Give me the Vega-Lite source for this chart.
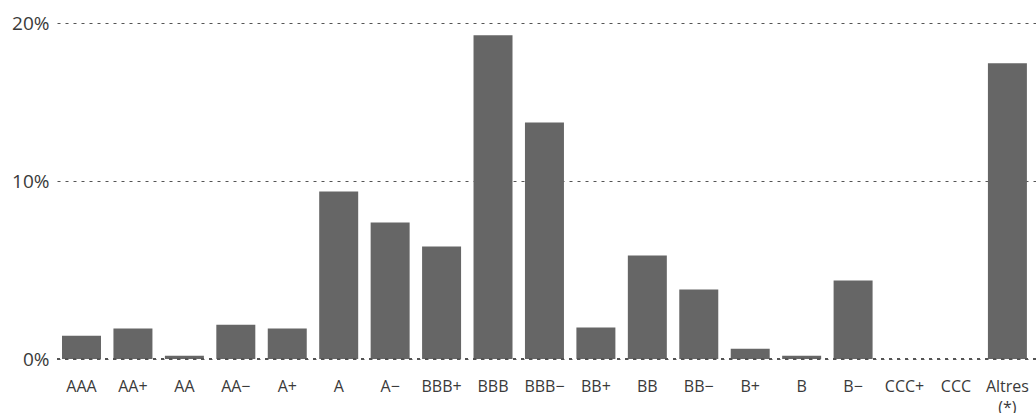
{
  "$schema": "https://vega.github.io/schema/vega-lite/v6.json",
  "width": 979,
  "height": 336,
  "autosize": {"type": "none"},
  "padding": {"left": 57, "top": 23, "right": 0, "bottom": 54},
  "background": "white",
  "config": {"view": {"stroke": null}, "font": "Open Sans"},
  "data": {
    "values": [
      {"rating": "AAA", "share": 0.0139},
      {"rating": "AA+", "share": 0.0181},
      {"rating": "AA", "share": 0.0020},
      {"rating": "AA−", "share": 0.0204},
      {"rating": "A+", "share": 0.0181},
      {"rating": "A", "share": 0.0997},
      {"rating": "A−", "share": 0.0812},
      {"rating": "BBB+", "share": 0.0669},
      {"rating": "BBB", "share": 0.1927},
      {"rating": "BBB−", "share": 0.1408},
      {"rating": "BB+", "share": 0.0187},
      {"rating": "BB", "share": 0.0616},
      {"rating": "BB−", "share": 0.0413},
      {"rating": "B+", "share": 0.0061},
      {"rating": "B", "share": 0.0020},
      {"rating": "B−", "share": 0.0467},
      {"rating": "CCC+", "share": 0},
      {"rating": "CCC", "share": 0},
      {"rating": "Altres (*)", "share": 0.1760}
    ]
  },
  "layer": [
    {
      "mark": {"type": "bar", "color": "#666666"},
      "encoding": {
        "x": {
          "field": "rating",
          "type": "nominal",
          "sort": null,
          "scale": {"paddingInner": 0.242, "paddingOuter": 0.137, "align": 0.355},
          "axis": {
            "title": null,
            "domain": false,
            "ticks": false,
            "labelAngle": 0,
            "labelFontSize": 16,
            "labelColor": "#3a3a3a",
            "labelPadding": 19,
            "labelLineHeight": 21,
            "labelBaseline": "top",
            "labelExpr": "datum.value == 'Altres (*)' ? ['Altres', '(*)'] : datum.value"
          }
        },
        "y": {
          "field": "share",
          "type": "quantitative",
          "scale": {"domain": [0, 0.2], "nice": false, "zero": true},
          "axis": {
            "title": null,
            "domain": false,
            "ticks": false,
            "values": [0, 0.1057, 0.2],
            "labelExpr": "round(datum.value * 10) * 10 + '%'",
            "labelFontSize": 19,
            "labelColor": "#3a3a3a",
            "labelPadding": 8,
            "grid": true,
            "gridColor": "#555555",
            "gridDash": [3, 5],
            "gridWidth": 1
          }
        }
      }
    },
    {
      "mark": {"type": "rule", "color": "#555555", "strokeDash": [3, 5], "strokeWidth": 1},
      "encoding": {"y": {"datum": 0}}
    }
  ]
}
